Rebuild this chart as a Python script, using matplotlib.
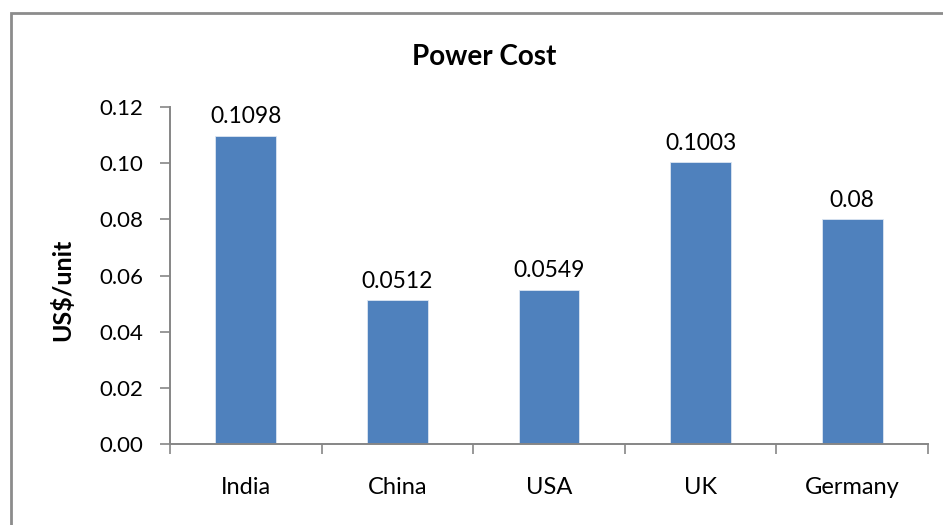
import matplotlib
matplotlib.use("Agg")
import matplotlib.pyplot as plt
from matplotlib.patches import Rectangle

countries = ["India", "China", "USA", "UK", "Germany"]
cost = [0.1098, 0.0512, 0.0549, 0.1003, 0.08]
cost_labels = ["0.1098", "0.0512", "0.0549", "0.1003", "0.08"]
y_ticks = [0.00, 0.02, 0.04, 0.06, 0.08, 0.10, 0.12]

BAR = "#4F81BD"
AXIS = "#868686"

plt.rcParams["font.family"] = ["Lato", "DejaVu Sans"]

fig = plt.figure(figsize=(9.43, 5.25), dpi=100)
ax = fig.add_axes([170 / 943, 1 - 444 / 525, (928 - 170) / 943, (444 - 107) / 525])

x = list(range(len(countries)))
bars = ax.bar(x, cost, width=0.4, color=BAR, edgecolor="#dce6f2", linewidth=0.6)
for b, lab in zip(bars, cost_labels):
    ax.annotate(lab, (b.get_x() + b.get_width() / 2, b.get_height()),
                xytext=(0, 6), textcoords="offset points",
                ha="center", va="bottom", fontsize=16.5)

ax.set_xlim(-0.5, len(countries) - 0.5)
ax.set_ylim(0, 0.12)
ax.set_yticks(y_ticks)
ax.set_yticklabels([f"{v:.2f}" for v in y_ticks])

# category labels in the middle, tick marks on the boundaries
ax.set_xticks(x)
ax.set_xticklabels(countries)
ax.set_xticks([i - 0.5 for i in range(len(countries) + 1)], minor=True)
ax.tick_params(axis="x", which="major", length=0, pad=24, labelsize=17)
ax.tick_params(axis="x", which="minor", length=7, width=1.2, color=AXIS, direction="out")
ax.tick_params(axis="y", length=7, width=1.2, color=AXIS, direction="out", pad=12, labelsize=16)

for side in ("top", "right"):
    ax.spines[side].set_visible(False)
for side in ("left", "bottom"):
    ax.spines[side].set_color(AXIS)
    ax.spines[side].set_linewidth(1.4)

ax.set_ylabel("US$/unit", fontsize=18, fontweight="bold", va="center")
ax.yaxis.set_label_coords((62 - 170) / 758, (444 - 290) / 337)
fig.text(484 / 943, 1 - 57 / 525, "Power Cost", ha="center", va="center",
         fontsize=20, fontweight="bold")

# chart frame
fig.patches.append(Rectangle((11 / 943, -0.1), 2, 1.1 - 13 / 525,
                             transform=fig.transFigure, fill=False,
                             edgecolor="#8c8c8c", linewidth=2))

fig.savefig("out.png", dpi=100)
